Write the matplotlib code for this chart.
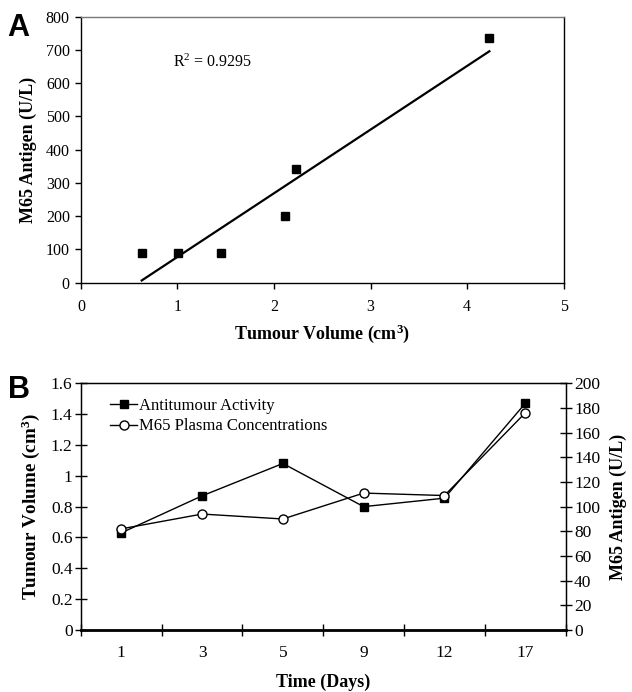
import numpy as np
import matplotlib
matplotlib.use("Agg")
import matplotlib.pyplot as plt

# Panel A data
tumour_volume = [0.63, 1.01, 1.45, 2.11, 2.23, 4.23]
m65_antigen_a = [90, 90, 90, 201, 343, 735]

# Panel B data
days = ["1", "3", "5", "9", "12", "17"]
antitumour_activity = [0.63, 0.87, 1.08, 0.80, 0.855, 1.47]
m65_plasma = [82, 94, 90, 111, 109, 176]

serif = "Liberation Serif"
plt.rcParams["font.family"] = serif
plt.rcParams["font.size"] = 11
plt.rcParams["mathtext.fontset"] = "custom"
plt.rcParams["mathtext.rm"] = "Liberation Serif"
plt.rcParams["mathtext.bf"] = "Liberation Serif:bold"
plt.rcParams["mathtext.it"] = "Liberation Serif:italic"

fig = plt.figure(figsize=(6.32, 6.92), dpi=100)

# ---------- Panel A ----------
axA = fig.add_axes([0.128, 0.5915, 0.764, 0.3844])
axA.plot(tumour_volume, m65_antigen_a, linestyle="none", marker="s",
         markersize=6, color="black")
coef = np.polyfit(tumour_volume, m65_antigen_a, 1)
xs = np.array([min(tumour_volume), max(tumour_volume)])
axA.plot(xs, np.polyval(coef, xs), color="black", linewidth=1.6)
axA.set_xlim(0, 5)
axA.set_ylim(0, 800)
axA.set_xticks(range(0, 6))
axA.set_yticks(range(0, 801, 100))
axA.tick_params(direction="out", length=4, width=1, labelsize=11.5, pad=4)
axA.tick_params(axis="x", pad=8)
for s in axA.spines.values():
    s.set_linewidth(1)
axA.spines["top"].set_color("#777777")
axA.text(0.95, 662, r"R$^\mathrm{2}$ = 0.9295", fontsize=11.5, va="center", ha="left")
axA.set_xlabel(r"Tumour Volume (cm$^\mathbf{3}$)", fontsize=13, fontweight="bold", labelpad=5)
axA.set_ylabel("M65 Antigen (U/L)", fontsize=13, fontweight="bold", labelpad=6)
fig.text(0.012, 0.981, "A", fontsize=22, fontweight="bold",
         family="Liberation Sans", va="top", ha="left")

# ---------- Panel B ----------
axB = fig.add_axes([0.128, 0.0896, 0.767, 0.3565])
pos = np.arange(len(days)) + 0.5
l1, = axB.plot(pos, antitumour_activity, color="black", linewidth=1,
               marker="s", markersize=6, markerfacecolor="black",
               label="Antitumour Activity")
axB.set_xlim(0, len(days))
axB.set_ylim(0, 1.6)
axB.set_yticks(np.arange(0, 1.61, 0.2))
axB.set_yticklabels(["0", "0.2", "0.4", "0.6", "0.8", "1", "1.2", "1.4", "1.6"])
axB.set_xticks(np.arange(0, len(days) + 1))
axB.set_xticklabels([])
axB.set_xticks(pos, minor=True)
axB.set_xticklabels(days, minor=True)
axB.tick_params(axis="x", which="major", direction="inout", length=8, width=1)
axB.tick_params(axis="x", which="minor", length=0, pad=11, labelsize=12.5)
axB.tick_params(axis="y", direction="inout", length=8, width=1, labelsize=12.5, pad=2)
for s in axB.spines.values():
    s.set_linewidth(1)
axB.spines["bottom"].set_linewidth(2)
axB.set_xlabel("Time (Days)", fontsize=13, fontweight="bold", labelpad=9)
axB.set_ylabel(r"Tumour Volume (cm$^\mathbf{3}$)", fontsize=13.8, fontweight="bold", labelpad=6)

axB2 = axB.twinx()
l2, = axB2.plot(pos, m65_plasma, color="black", linewidth=1,
                marker="o", markersize=6.5, markerfacecolor="white",
                label="M65 Plasma Concentrations")
axB2.set_ylim(0, 200)
axB2.set_yticks(range(0, 201, 20))
axB2.tick_params(axis="y", direction="inout", length=8, width=1, labelsize=12.5, pad=2)
axB2.set_ylabel("M65 Antigen (U/L)", fontsize=13, fontweight="bold", labelpad=7)

axB.legend(handles=[l1, l2], loc="upper left", bbox_to_anchor=(0.04, 0.98),
           frameon=False, fontsize=12, handlelength=1.6, handletextpad=0.1,
           labelspacing=0.25, borderaxespad=0.2)

fig.text(0.012, 0.458, "B", fontsize=22, fontweight="bold",
         family="Liberation Sans", va="top", ha="left")

fig.savefig("out.png", dpi=100)
